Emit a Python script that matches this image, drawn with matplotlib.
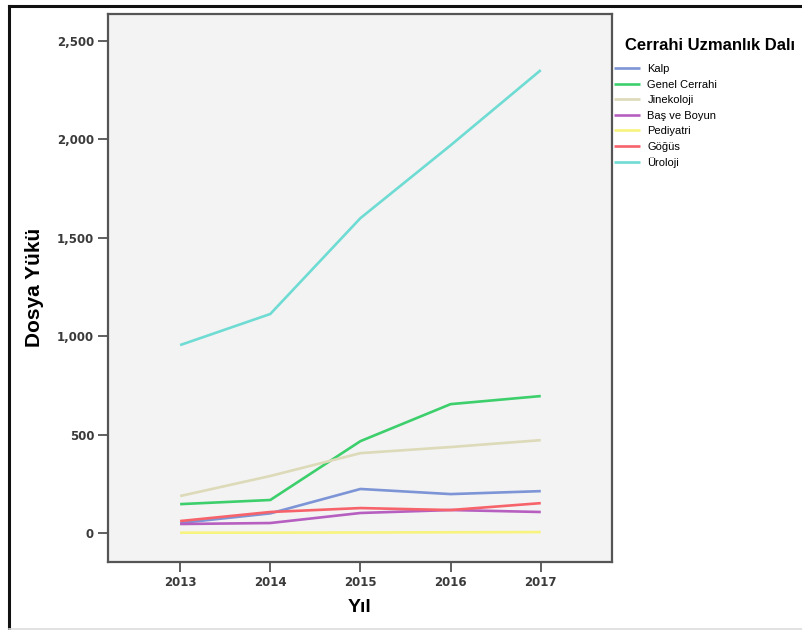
import matplotlib
matplotlib.use("Agg")
import matplotlib.pyplot as plt
from matplotlib.lines import Line2D
from matplotlib.ticker import FuncFormatter

years = [2013, 2014, 2015, 2016, 2017]
branches = ["Kalp", "Genel Cerrahi", "Jinekoloji", "Baş ve Boyun",
            "Pediyatri", "Göğüs", "Üroloji"]
kalp = [51, 100, 224, 198, 213]
genel_cerrahi = [147, 168, 467, 655, 696]
jinekoloji = [188, 290, 406, 437, 472]
bas_ve_boyun = [46, 51, 102, 117, 107]
pediyatri = [2, 2, 3, 4, 5]
gogus = [61, 107, 127, 117, 152]
uroloji = [955, 1113, 1600, 1970, 2352]
series = [kalp, genel_cerrahi, jinekoloji, bas_ve_boyun, pediyatri, gogus, uroloji]
colors = ["#7d95d6", "#3ccf6c", "#dcdab8", "#b65fc0", "#f7f37e", "#f7636b", "#6fdcd4"]

W, H = 802, 630
fig = plt.figure(figsize=(W / 100, H / 100), dpi=100)
fig.patch.set_facecolor("white")

# outer frame
fig.add_artist(Line2D([8.5/W, 8.5/W], [1-5.5/H, 1-629/H], color="#111111", lw=2.2,
                      transform=fig.transFigure))
fig.add_artist(Line2D([8.5/W, 1.0], [1-5.5/H, 1-5.5/H], color="#111111", lw=2.2,
                      transform=fig.transFigure))
fig.add_artist(Line2D([8.5/W, 1.0], [1-629/H, 1-629/H], color="#dddddd", lw=1.2,
                      transform=fig.transFigure))

ax = fig.add_axes([108/W, 1-562/H, 504/W, 548/H])
ax.set_facecolor("#f3f3f3")
for name, vals, c in zip(branches, series, colors):
    ax.plot(years, vals, color=c, lw=1.9, label=name, solid_capstyle="butt")

ax.set_xlim(2012.2, 2017.79)
ax.set_ylim(-147, 2637)
ax.set_xticks(years)
ax.set_yticks([0, 500, 1000, 1500, 2000, 2500])
ax.yaxis.set_major_formatter(FuncFormatter(lambda v, p: f"{int(v):,}"))
for s in ax.spines.values():
    s.set_color("#555555")
    s.set_linewidth(1.6)
ax.tick_params(axis="both", direction="out", length=7, width=1.2, color="#444444",
               labelcolor="#3a3a3a", labelsize=8.5, pad=3)
for lbl in ax.get_xticklabels() + ax.get_yticklabels():
    lbl.set_fontweight("bold")

fig.text(360/W, 1-608/H, "Yıl", fontsize=14, fontweight="bold",
         family="Liberation Sans", ha="center", va="center")
fig.text(34/W, 1-287/H, "Dosya Yükü", fontsize=15, fontweight="bold",
         family="Liberation Sans", ha="center", va="center", rotation=90)

fig.text(625/W, 1-45/H, "Cerrahi Uzmanlık Dalı", fontsize=12, fontweight="bold",
         family="Liberation Sans", ha="left", va="center")
leg = ax.legend(loc="upper left", bbox_to_anchor=(1 + (614-612)/504, (562-64)/548),
                frameon=False, prop={"family": "Liberation Sans", "size": 8},
                handlelength=2.3, handletextpad=0.7, labelspacing=0.5,
                borderpad=0.0, borderaxespad=0.0)

fig.savefig("out.png", dpi=100)
